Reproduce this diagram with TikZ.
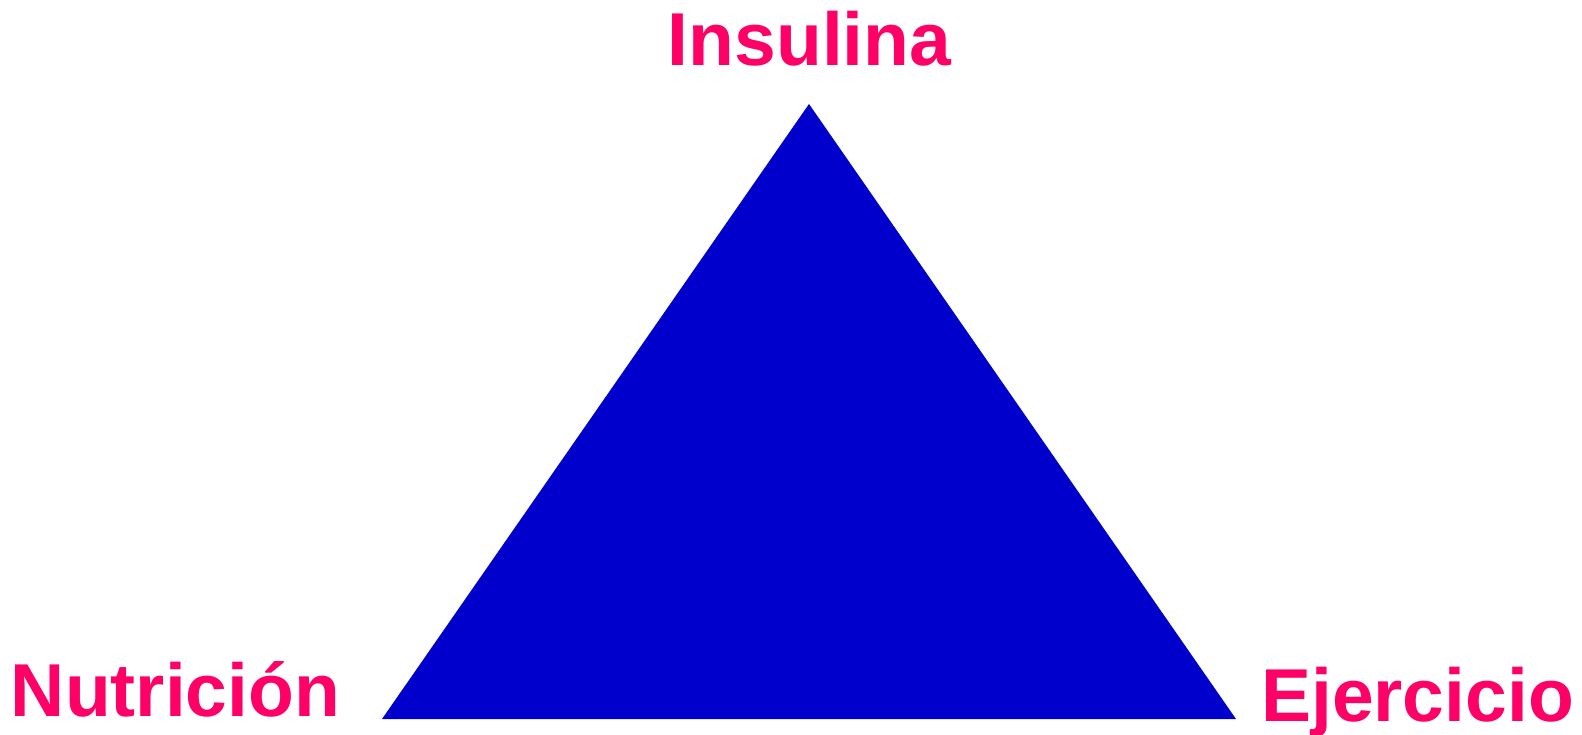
\documentclass[tikz,border=0pt]{standalone}
\usepackage{fontspec}
\setmainfont{Liberation Sans}
\definecolor{pinklbl}{HTML}{FF0066}
\definecolor{triblue}{HTML}{0000CC}
\begin{document}
\begin{tikzpicture}[x=1pt,y=-1pt,
  lbl/.style={text=pinklbl,font=\fontsize{75}{80}\selectfont\bfseries,inner sep=0pt,anchor=base}]
\useasboundingbox (0,0) rectangle (1582,735);
\coordinate (top) at (809,104);
\coordinate (bl) at (382,719);
\coordinate (br) at (1236,719);
\fill[triblue] (top) -- (br) -- (bl) -- cycle;
\node[lbl] (ins) at (809.5,66) {Insulina};
\node[lbl] (nut) at (175.5,716) {Nutrición};
\node[lbl] (eje) at (1417.5,721) {Ejercicio};
\end{tikzpicture}
\end{document}
